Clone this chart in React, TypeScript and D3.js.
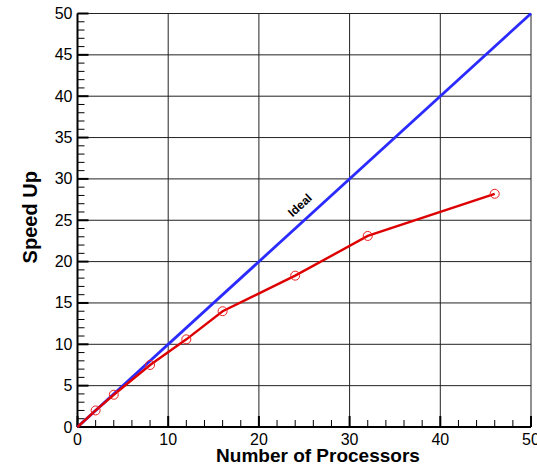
import React from "react";
import * as d3 from "d3";

const processors = [2, 4, 8, 12, 16, 24, 32, 46];
const speedUp = [2.0, 3.9, 7.5, 10.6, 14.0, 18.3, 23.1, 28.2];
const idealX = [0, 50];
const idealY = [0, 50];
const xTicks = [0, 10, 20, 30, 40, 50];
const yTicks = [0, 5, 10, 15, 20, 25, 30, 35, 40, 45, 50];
const xMinor = d3.range(0, 51, 2);
const yMinor = d3.range(0, 51, 1);

const W = 537, H = 467;
const left = 77.5, right = 531, top = 13.5, bottom = 427;

export default function App() {
  const x = d3.scaleLinear().domain([0, 50]).range([left, right]);
  const y = d3.scaleLinear().domain([0, 50]).range([bottom, top]);
  const line = d3.line<[number, number]>().x(d => x(d[0])).y(d => y(d[1]));
  const dataPts: [number, number][] = processors.map((p, i) => [p, speedUp[i]]);
  const idealPts: [number, number][] = idealX.map((v, i) => [v, idealY[i]]);
  const font = "'Liberation Sans', Arial, Helvetica, sans-serif";
  const angle = -Math.atan2(y(0) - y(50), x(50) - x(0)) * 180 / Math.PI;
  const lx = 25.6, ly = 25.6;
  return (
    <svg width={W} height={H} style={{ position: "absolute", left: 0, top: 0, background: "#fff" }} fontFamily={font}>
      {/* grid */}
      {xTicks.map(t => (
        <line key={"gx" + t} x1={x(t)} x2={x(t)} y1={y(0)} y2={y(50)} stroke="#222" strokeWidth={1} />
      ))}
      {yTicks.map(t => (
        <line key={"gy" + t} x1={x(0)} x2={x(50)} y1={y(t)} y2={y(t)} stroke="#222" strokeWidth={1} />
      ))}
      {/* minor ticks */}
      {xMinor.map(t => (
        <line key={"mx" + t} x1={x(t)} x2={x(t)} y1={y(0)} y2={y(0) - (t % 10 === 0 ? 11 : 7)} stroke="#000" strokeWidth={t % 10 === 0 ? 2 : 1} />
      ))}
      {yMinor.map(t => (
        <line key={"my" + t} x1={x(0)} x2={x(0) + (t % 5 === 0 ? 11 : 7)} y1={y(t)} y2={y(t)} stroke="#000" strokeWidth={t % 5 === 0 ? 2 : 1} />
      ))}
      {/* axes */}
      <line x1={x(0)} x2={x(50)} y1={y(0)} y2={y(0)} stroke="#000" strokeWidth={2} />
      <line x1={x(0)} x2={x(0)} y1={y(0)} y2={y(50)} stroke="#000" strokeWidth={2} />
      {/* tick labels */}
      {xTicks.map(t => (
        <text key={"xl" + t} x={x(t)} y={bottom + 18} textAnchor="middle" fontSize={16} fill="#000">{t}</text>
      ))}
      {yTicks.map(t => (
        <text key={"yl" + t} x={left - 5} y={y(t) + 5.5} textAnchor="end" fontSize={16} fill="#000">{t}</text>
      ))}
      {/* ideal */}
      <path d={line(idealPts) || ""} fill="none" stroke="#2b2bff" strokeWidth={2.8} />
      <text transform={`translate(${x(lx) - 7},${y(ly) - 7}) rotate(${angle})`} textAnchor="middle" fontSize={12} fontWeight="bold" fill="#000">Ideal</text>
      {/* data */}
      <path d={line([[0, 0], ...dataPts]) || ""} fill="none" stroke="#dd0000" strokeWidth={2.4} />
      {dataPts.map((d, i) => (
        <circle key={"c" + i} cx={x(d[0])} cy={y(d[1])} r={4.5} fill="none" stroke="#ee2020" strokeWidth={1} />
      ))}
      {/* axis titles */}
      <text x={318} y={462} textAnchor="middle" fontSize={19} fontWeight="bold" fill="#000">Number of Processors</text>
      <text transform={`translate(37,${(top + bottom) / 2 - 3}) rotate(-90)`} textAnchor="middle" fontSize={20} fontWeight="bold" fill="#000">Speed Up</text>
    </svg>
  );
}
